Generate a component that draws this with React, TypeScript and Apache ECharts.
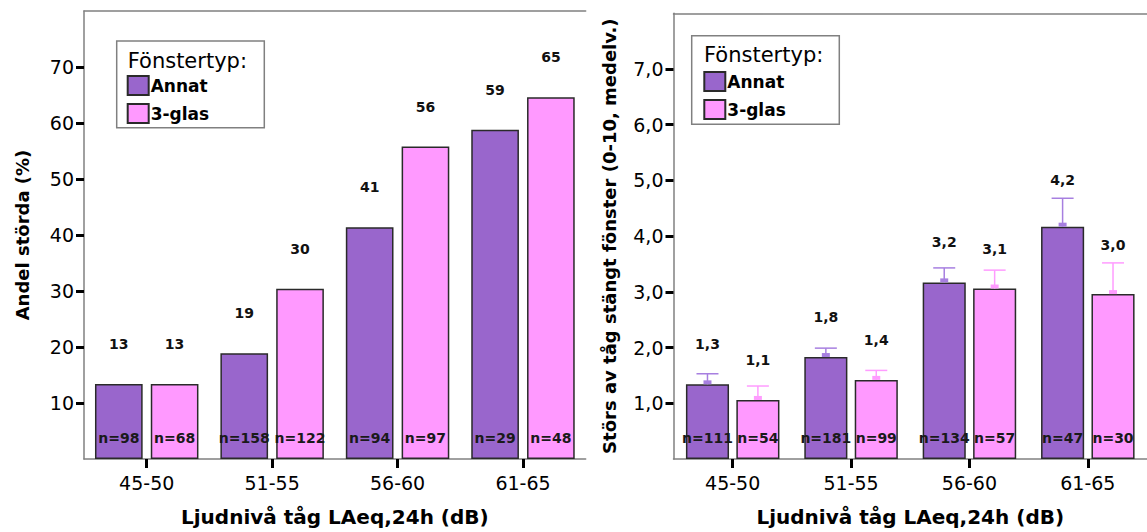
import React, { useEffect, useRef } from 'react';
import * as echarts from 'echarts';

const categories = ['45-50', '51-55', '56-60', '61-65'];
const seriesNames = ['Annat', '3-glas'];

// Left chart: Andel störda (%)
const shareAnnat = [13.4, 18.9, 41.4, 58.8];
const share3glas = [13.4, 30.4, 55.8, 64.6];
const shareNAnnat = [98, 158, 94, 29];
const shareN3glas = [68, 122, 97, 48];
const leftTicks = [10, 20, 30, 40, 50, 60, 70];

// Right chart: Störs av tåg stängt fönster (0-10, medelv.)
const meanAnnat = [1.34, 1.83, 3.17, 4.17];
const mean3glas = [1.06, 1.42, 3.06, 2.96];
const upperAnnat = [1.53, 1.99, 3.43, 4.68];
const upper3glas = [1.31, 1.59, 3.39, 3.52];
const meanNAnnat = [111, 181, 134, 47];
const meanN3glas = [54, 99, 57, 30];
const rightTicks = [1, 2, 3, 4, 5, 6, 7];

const FONT = 'DejaVu Sans';
const colAnnat = '#9966cc';
const col3glas = '#ff99ff';
const errAnnat = '#a77fe0';
const err3glas = '#ff9cff';
const frameColor = '#808080';

const LEFT_CAT_GAP = 0.175;
const RIGHT_CAT_GAP = 0.21;
const BAR_GAP = 0.17;

function txt(text: string, x: number, y: number, size: number, weight: string, align: string, fill = '#111') {
  return {
    type: 'text',
    x,
    y,
    style: {
      text,
      fill,
      fontSize: size,
      fontWeight: weight,
      fontFamily: FONT,
      align,
      verticalAlign: 'middle',
    },
  };
}

function labelSeries(o: any) {
  const { xAxisIndex, yAxisIndex, slot, catGap, values, upper, ns, fmt, errColor } = o;
  return {
    type: 'custom',
    xAxisIndex,
    yAxisIndex,
    z: 5,
    silent: true,
    clip: false,
    data: values.map((v: number, i: number) => [i, v, upper ? upper[i] : v, ns[i]]),
    encode: { x: 0, y: 1 },
    renderItem: (params: any, api: any) => {
      const i = api.value(0);
      const v = api.value(1);
      const up = api.value(2);
      const n = api.value(3);
      const base = api.coord([i, 0]);
      const top = api.coord([i, v]);
      const band = api.size([1, 0])[0];
      const usable = band * (1 - catGap);
      const bw = usable / (2 + BAR_GAP);
      const x = base[0] - usable / 2 + slot * bw * (1 + BAR_GAP) + bw / 2;
      const children: any[] = [];
      let labelY = top[1] - 40;
      if (upper) {
        const upY = api.coord([i, up])[1];
        children.push({
          type: 'rect',
          shape: { x: x - 4, y: top[1] - 4, width: 8, height: 4 },
          style: { fill: errColor },
        });
        children.push({
          type: 'line',
          shape: { x1: x, y1: top[1], x2: x, y2: upY },
          style: { stroke: errColor, lineWidth: 1.5 },
        });
        children.push({
          type: 'line',
          shape: { x1: x - 11, y1: upY, x2: x + 11, y2: upY },
          style: { stroke: errColor, lineWidth: 1.5 },
        });
        labelY = Math.min(labelY, upY - 18);
      }
      children.push(txt(fmt(v), x, labelY, 14, 'bold', 'center'));
      children.push(txt('n=' + n, x, base[1] - 21, 14, 'bold', 'center', '#1a1a1a'));
      return { type: 'group', children };
    },
  };
}

function barSeries(name: string, data: number[], color: string, xi: number, yi: number, catGap: number) {
  return {
    type: 'bar',
    name,
    data,
    xAxisIndex: xi,
    yAxisIndex: yi,
    barCategoryGap: (catGap * 100).toFixed(1) + '%',
    barGap: BAR_GAP * 100 + '%',
    itemStyle: { color, borderColor: '#2a2a2a', borderWidth: 1.5 },
    z: 2,
  };
}

function bottomAxis(gridIndex: number) {
  return {
    type: 'category',
    gridIndex,
    data: categories,
    position: 'bottom',
    boundaryGap: true,
    axisLine: { show: true, lineStyle: { color: frameColor, width: 1.5 } },
    axisTick: { show: true, alignWithLabel: true, length: 9, lineStyle: { color: '#000', width: 3 } },
    axisLabel: { color: '#000', fontSize: 19, fontFamily: FONT, margin: 14 },
    name: 'Ljudnivå tåg LAeq,24h (dB)',
    nameLocation: 'middle',
    nameGap: 48,
    nameTextStyle: { color: '#000', fontSize: 20, fontWeight: 'bold', fontFamily: FONT },
  };
}

function topAxis(gridIndex: number) {
  return {
    type: 'category',
    gridIndex,
    data: categories,
    position: 'top',
    axisLine: { show: true, lineStyle: { color: frameColor, width: 1.5 } },
    axisTick: { show: false },
    axisLabel: { show: false },
  };
}

function valueAxis(gridIndex: number, max: number, ticks: number[], fmt: (v: number) => string, name: string, nameGap: number) {
  return {
    type: 'value',
    gridIndex,
    min: 0,
    max,
    interval: max / 8,
    splitLine: { show: false },
    axisLine: { show: true, lineStyle: { color: frameColor, width: 1.5 } },
    axisTick: { show: true, length: 8, customValues: ticks, lineStyle: { color: '#000', width: 3 } },
    axisLabel: {
      customValues: ticks,
      color: '#000',
      fontSize: 19,
      fontFamily: FONT,
      margin: 10,
      formatter: (v: number) => fmt(v),
    },
    name,
    nameLocation: 'middle',
    nameGap,
    nameTextStyle: { color: '#000', fontSize: 18, fontWeight: 'bold', fontFamily: FONT },
  };
}

function legendBox(x: number, y: number, w: number, h: number, tx: number, ty: number) {
  return [
    {
      type: 'rect',
      z: 1,
      shape: { x, y, width: w, height: h },
      style: { fill: '#fff', stroke: frameColor, lineWidth: 1.5 },
    },
    { ...txt('Fönstertyp:', tx, ty, 21, 'normal', 'left', '#000'), z: 2 },
  ];
}

function legend(left: number, top: number) {
  return {
    data: seriesNames,
    orient: 'vertical',
    left,
    top,
    padding: 0,
    itemWidth: 21,
    itemHeight: 19,
    itemGap: 7,
    icon: 'rect',
    selectedMode: false,
    z: 6,
    textStyle: { color: '#000', fontSize: 17, fontWeight: 'bold', fontFamily: FONT, padding: [0, 0, 0, -3] },
  };
}

export default function App() {
  const ref = useRef<HTMLDivElement>(null);
  useEffect(() => {
    if (!ref.current) return;
    const chart = echarts.init(ref.current, undefined, { renderer: 'svg' });
    const intFmt = (v: number) => String(Math.round(v));
    const decFmt = (v: number) => v.toFixed(1).replace('.', ',');
    chart.setOption({
      animation: false,
      backgroundColor: '#fff',
      grid: [
        { left: 84, top: 11, width: 501.7, height: 452.5 },
        { left: 673.5, top: 13.3, width: 486.6, height: 448.7 },
      ],
      xAxis: [bottomAxis(0), bottomAxis(1), topAxis(0), topAxis(1)],
      yAxis: [
        valueAxis(0, 80, leftTicks, (v) => String(v), 'Andel störda (%)', 53),
        valueAxis(1, 8, rightTicks, decFmt, 'Störs av tåg stängt fönster (0-10, medelv.)', 55),
      ],
      legend: [legend(126.7, 75), legend(703.3, 71)],
      graphic: [
        ...legendBox(116.7, 41, 147.6, 86.7, 127.7, 61),
        ...legendBox(691.7, 35.7, 147.6, 88.6, 704, 55),
      ],
      series: [
        barSeries('Annat', shareAnnat, colAnnat, 0, 0, LEFT_CAT_GAP),
        barSeries('3-glas', share3glas, col3glas, 0, 0, LEFT_CAT_GAP),
        barSeries('Annat', meanAnnat, colAnnat, 1, 1, RIGHT_CAT_GAP),
        barSeries('3-glas', mean3glas, col3glas, 1, 1, RIGHT_CAT_GAP),
        labelSeries({ xAxisIndex: 0, yAxisIndex: 0, slot: 0, catGap: LEFT_CAT_GAP, values: shareAnnat, ns: shareNAnnat, fmt: intFmt }),
        labelSeries({ xAxisIndex: 0, yAxisIndex: 0, slot: 1, catGap: LEFT_CAT_GAP, values: share3glas, ns: shareN3glas, fmt: intFmt }),
        labelSeries({ xAxisIndex: 1, yAxisIndex: 1, slot: 0, catGap: RIGHT_CAT_GAP, values: meanAnnat, upper: upperAnnat, ns: meanNAnnat, fmt: decFmt, errColor: errAnnat }),
        labelSeries({ xAxisIndex: 1, yAxisIndex: 1, slot: 1, catGap: RIGHT_CAT_GAP, values: mean3glas, upper: upper3glas, ns: meanN3glas, fmt: decFmt, errColor: err3glas }),
      ],
    });
    return () => chart.dispose();
  }, []);
  return (
    <div
      ref={ref}
      style={{ position: 'fixed', left: 0, top: 0, width: 1147, height: 532, background: '#fff' }}
    />
  );
}
